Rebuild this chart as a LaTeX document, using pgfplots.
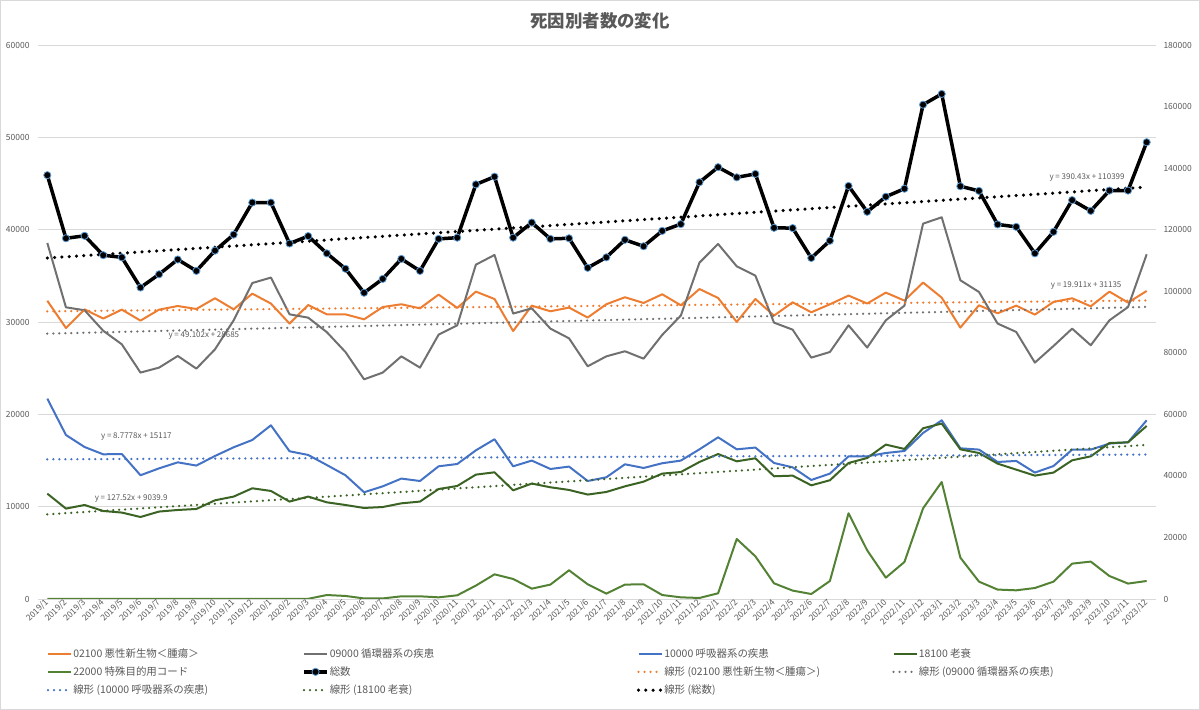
\documentclass[border=0pt]{standalone}
\usepackage{pgfplots}
\pgfplotsset{compat=1.18}
\usepackage{pgfplotstable}
\usepackage{fontspec}
\setmainfont{Noto Sans CJK JP}
\definecolor{txt}{HTML}{595959}
\definecolor{grd}{HTML}{D9D9D9}
\definecolor{cOr}{HTML}{ED7D31}
\definecolor{cGr}{HTML}{707070}
\definecolor{cBl}{HTML}{4472C4}
\definecolor{cDg}{HTML}{3B6324}
\definecolor{cLg}{HTML}{548235}
\definecolor{cMk}{HTML}{5B9BD5}

\pgfplotstableread{
x a b c d e t
0 32300 38560 21700 11410 0 137700
1 29350 31590 17760 9790 0 117200
2 31370 31270 16460 10180 0 118000
3 30370 29050 15670 9530 0 111700
4 31340 27580 15700 9360 0 111000
5 30150 24520 13400 8880 0 101200
6 31340 25060 14150 9470 0 105500
7 31730 26320 14800 9640 0 110300
8 31410 24950 14450 9750 0 106600
9 32570 27040 15490 10690 0 113200
10 31370 30180 16430 11090 0 118400
11 33070 34220 17220 11990 0 128800
12 32000 34810 18810 11700 0 128800
13 29830 30830 16000 10550 0 115500
14 31840 30470 15600 11090 20 117900
15 30830 28900 14510 10470 430 112300
16 30830 26750 13400 10180 330 107300
17 30290 23790 11560 9860 60 99500
18 31620 24520 12200 9960 60 104000
19 31920 26280 13040 10360 290 110500
20 31480 25060 12780 10550 290 106600
21 32970 28630 14370 11910 180 117000
22 31520 29640 14620 12240 400 117400
23 33290 36210 16100 13470 1450 134700
24 32490 37260 17300 13720 2670 137200
25 29020 30910 14370 11770 2170 117400
26 31770 31480 14990 12500 1120 122300
27 31160 29280 14080 12100 1560 117000
28 31560 28230 14340 11810 3110 117200
29 30480 25200 12780 11310 1590 107600
30 31920 26280 13180 11590 580 111000
31 32680 26830 14590 12200 1560 116700
32 32060 26030 14190 12710 1590 114600
33 33000 28600 14700 13580 430 119600
34 31810 30700 14990 13750 180 121800
35 33570 36430 16210 14840 110 135400
36 32600 38450 17510 15700 620 140300
37 30000 36030 16210 14910 6500 137000
38 32490 35020 16400 15240 4620 138100
39 30690 29930 14730 13290 1700 120600
40 32130 29170 14260 13360 910 120500
41 31050 26140 12890 12310 540 110800
42 31920 26750 13580 12860 1950 116400
43 32860 29640 15450 14730 9280 134200
44 32000 27230 15450 15270 5270 125800
45 33180 30180 15810 16720 2310 130700
46 32320 31770 16030 16250 4010 133300
47 34270 40650 17980 18490 9820 160600
48 32640 41340 19350 19000 12670 164100
49 29390 34520 16320 16210 4480 134100
50 31810 33250 16180 15810 1880 132600
51 30940 29830 14840 14660 1020 121700
52 31770 28920 14950 14010 940 120900
53 30800 25600 13690 13360 1190 112300
54 32170 27400 14400 13690 1880 119300
55 32570 29280 16180 15020 3830 129600
56 31700 27480 16180 15450 4050 126100
57 33290 30180 16830 16890 2490 132700
58 32100 31620 16970 16970 1670 132700
59 33360 37330 19350 18740 1950 148400
}\data

\pgfplotsset{
  base/.style={
    at={(38bp,111bp)}, anchor=south west,
    scale only axis, width=1118bp, height=554bp,
    xmin=-0.5, xmax=59.5, ymin=0,
    axis line style={draw=none},
    major tick length=0pt, tick style={draw=none},
    ticklabel style={font=\fontsize{8.5}{10}\selectfont, text=txt},
    /pgf/number format/assume math mode=true,
    scaled y ticks=false,
    yticklabel style={/pgf/number format/fixed,/pgf/number format/1000 sep={}},
  },
  ser/.style={line width=2bp, line join=round},
  tr/.style={line width=2.5bp, dash pattern=on 0pt off 6bp, line cap=round},
}

\begin{document}
\begin{tikzpicture}[x=1bp,y=1bp]
\path[use as bounding box] (0,0) rectangle (1200,710);
\draw[grd, line width=0.75bp] (0.5,0.5) rectangle (1199.5,709.5);
\node[text=txt, font=\fontsize{17.5}{20}\selectfont\bfseries] at (600,689) {死因別者数の変化};

\begin{axis}[base,
  ymax=60000, ytick={0,10000,...,60000},
  ymajorgrids, grid style={grd, line width=0.75bp},
  yticklabel style={xshift=-5bp},
  xtick={0,...,59},
  xticklabels={2019/1,2019/2,2019/3,2019/4,2019/5,2019/6,2019/7,2019/8,2019/9,2019/10,2019/11,2019/12,
    2020/1,2020/2,2020/3,2020/4,2020/5,2020/6,2020/7,2020/8,2020/9,2020/10,2020/11,2020/12,
    2021/1,2021/2,2021/3,2021/4,2021/5,2021/6,2021/7,2021/8,2021/9,2021/10,2021/11,2021/12,
    2022/1,2022/2,2022/3,2022/4,2022/5,2022/6,2022/7,2022/8,2022/9,2022/10,2022/11,2022/12,
    2023/1,2023/2,2023/3,2023/4,2023/5,2023/6,2023/7,2023/8,2023/9,2023/10,2023/11,2023/12},
  xticklabel style={rotate=45, anchor=east, inner sep=1.5bp, yshift=-1bp},
]
\addplot[ser, cOr] table[x=x,y=a] {\data};
\addplot[ser, cGr] table[x=x,y=b] {\data};
\addplot[ser, cBl] table[x=x,y=c] {\data};
\addplot[ser, cDg] table[x=x,y=d] {\data};
\addplot[ser, cLg] table[x=x,y=e] {\data};
\addplot[tr, cOr] coordinates {(0,31154.9) (59,32329.7)};
\addplot[tr, cGr] coordinates {(0,28734.1) (59,31631.1)};
\addplot[tr, cBl] coordinates {(0,15125.8) (59,15643.7)};
\addplot[tr, cDg] coordinates {(0,9167.4) (59,16691.1)};
\node[font=\fontsize{8}{9}\selectfont, text=txt] at (axis cs:8.4,28560) {y = 49.102x + 28685};
\node[font=\fontsize{8}{9}\selectfont, text=txt] at (axis cs:4.78,17550) {y = 8.7778x + 15117};
\node[font=\fontsize{8}{9}\selectfont, text=txt] at (axis cs:4.5,10870) {y = 127.52x + 9039.9};
\node[font=\fontsize{8}{9}\selectfont, text=txt] at (axis cs:55.75,33900) {y = 19.911x + 31135};
\node[font=\fontsize{8}{9}\selectfont, text=txt] at (axis cs:55.8,45640) {y = 390.43x + 110399};
\end{axis}

\begin{axis}[base,
  ymax=180000, ytick={0,20000,...,180000},
  axis y line*=right, axis x line=none,
  yticklabel style={anchor=west, xshift=4bp},
  legend columns=4,
  legend cell align=left,
  legend style={at={(0.005,-0.078)}, anchor=north west, draw=none, fill=none,
    font=\fontsize{10.5}{12}\selectfont, text=txt, column sep=0pt, row sep=0pt,
    nodes={inner xsep=1bp, inner ysep=4bp}},
  legend image code/.code={\draw[mark repeat=2,mark phase=2,#1] plot coordinates {(0bp,0bp)(11.5bp,0bp)(23bp,0bp)};},
]
\addlegendimage{ser, cOr}\addlegendentry{\makebox[228bp][l]{02100 悪性新生物＜腫瘍＞}}
\addlegendimage{ser, cGr}\addlegendentry{\makebox[306bp][l]{09000 循環器系の疾患}}
\addlegendimage{ser, cBl}\addlegendentry{\makebox[227bp][l]{10000 呼吸器系の疾患}}
\addlegendimage{ser, cDg}\addlegendentry{18100 老衰}
\addlegendimage{ser, cLg}\addlegendentry{22000 特殊目的用コード}
\addplot[black, line width=3.5bp, line join=round, mark=*, mark size=3.6bp,
  mark options={fill=black, draw=cMk, line width=0.8bp}] table[x=x,y=t] {\data};
\addlegendentry{総数}
\addlegendimage{tr, cOr}\addlegendentry{線形 (02100 悪性新生物＜腫瘍＞)}
\addlegendimage{tr, cGr}\addlegendentry{線形 (09000 循環器系の疾患)}
\addlegendimage{tr, cBl}\addlegendentry{線形 (10000 呼吸器系の疾患)}
\addlegendimage{tr, cDg}\addlegendentry{線形 (18100 老衰)}
\addplot[tr, black, line width=3.5bp, dash pattern=on 0pt off 7.3bp] coordinates {(0,110789.4) (59,133824.8)};
\addlegendentry{線形 (総数)}
\end{axis}
\end{tikzpicture}
\end{document}
